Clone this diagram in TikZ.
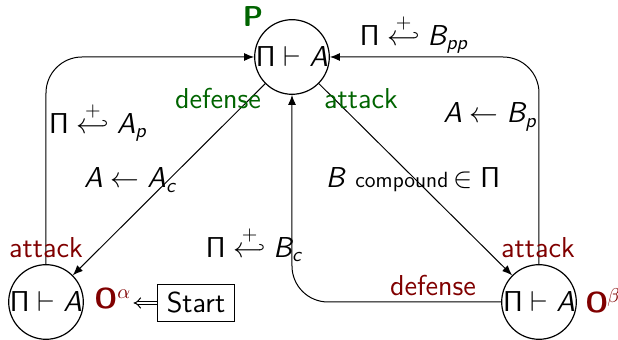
\documentclass[tikz,border=0pt]{standalone}
\usetikzlibrary{arrows.meta}
\definecolor{pgreen}{RGB}{0,100,0}
\definecolor{ored}{RGB}{128,0,0}
\newcommand\PiS{\mbox{\fontencoding{OT1}\fontfamily{cmss}\selectfont\char5}}
\newcommand\li[1]{\textit{#1}}
\newcommand\sbi[1]{_{\mbox{\fontsize{10}{12}\selectfont\itshape #1}}}
\newcommand\hk{\stackrel{+}{\hookleftarrow}}
\tikzset{
  state/.style={draw,circle,line width=0.6pt,minimum size=37pt,inner sep=0pt},
  edge/.style={-{Latex[length=5pt,width=4pt]},line width=0.5pt},
  lbl/.style={inner sep=1pt},
  glbl/.style={lbl,text=pgreen},
  rlbl/.style={lbl,text=ored},
}
\begin{document}
\begin{tikzpicture}[x=0.5pt,y=-0.5pt,font=\fontsize{14.4}{17}\selectfont\sffamily]
\useasboundingbox (0,0) rectangle (618,340);
\node[state] (P) at (292,57) {$\PiS\vdash\li{A}$};
\node[state] (L) at (46,302) {$\PiS\vdash\li{A}$};
\node[state] (R) at (539,302) {$\PiS\vdash\li{A}$};
\node[text=pgreen,font=\fontsize{14.4}{17}\selectfont\sffamily\bfseries] (Plab) at (253,17) {P};
\node[text=ored,lbl,anchor=west] (Oa) at (92,299) {\textbf{O}$^{\alpha}$};
\node[text=ored,lbl,anchor=west] (Ob) at (583,301) {\textbf{O}\kern-0.5pt$^{\beta}$};
\node[draw,line width=0.5pt,inner xsep=4.5pt,inner ysep=4pt] (S) at (196,303) {Start};
\draw[line width=0.5pt,double equal sign distance,-{Implies}] (S.west) -- (Oa.east |- S.west);
% left loop
\coordinate (Lc) at (46,57);
\draw[edge,rounded corners=18pt] (L.north) -- (Lc) -- (P.west);
% right loop
\coordinate (Rc) at (539,57);
\draw[edge,rounded corners=18pt] (R.north) -- (Rc) -- (P.east);
% bottom loop
\coordinate (Bc) at (292,302);
\draw[edge,rounded corners=18pt] (R.west) -- (Bc) -- (P.south);
% diagonals
\draw[edge] (P) -- (L);
\draw[edge] (P) -- (R);
% labels
\node[lbl] (l1) at (98,122) {$\PiS\hk\li{A}\sbi{p}$};
\node[lbl] (l2) at (414,34) {$\PiS\hk\li{B}\sbi{pp}$};
\node[lbl] (l3) at (490,117) {$\li{A}\leftarrow\li{B}\sbi{p}$};
\node[lbl] (l4) at (130,180) {$\li{A}\leftarrow\li{A}\sbi{c}$};
\node[lbl] (l5) at (413,180) {\li{B} {\fontsize{11}{13}\selectfont compound}$\,\in\PiS$};
\node[lbl] (l6) at (254,244) {$\PiS\hk\li{B}\sbi{c}$};
\node[glbl] (d1) at (218,99) {defense};
\node[glbl] (a1) at (361,99) {attack};
\node[rlbl] (a2) at (46,248) {attack};
\node[rlbl] (a3) at (538,248) {attack};
\node[rlbl] (d2) at (433,286) {defense};
\end{tikzpicture}
\end{document}
